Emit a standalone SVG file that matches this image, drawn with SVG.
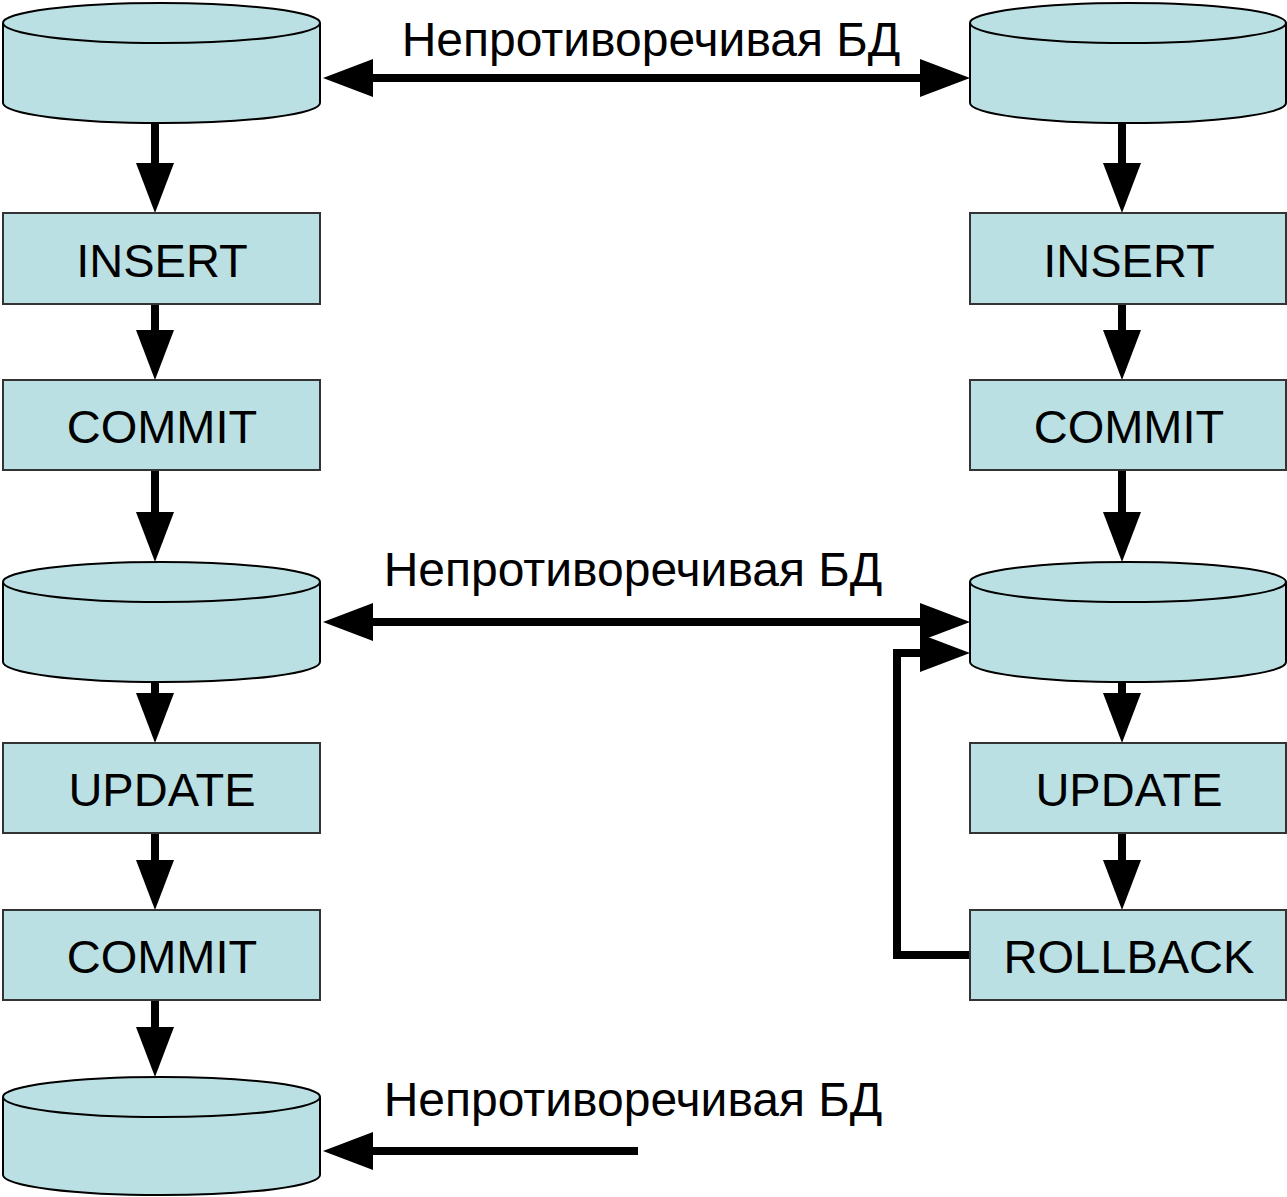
<svg xmlns="http://www.w3.org/2000/svg" width="1287" height="1197" viewBox="0 0 1287 1197">
<style>
.box{fill:#BBE0E3;stroke:#333;stroke-width:2}
.cyl{fill:#BBE0E3;stroke:#000;stroke-width:2}
.lbl{font-family:"Liberation Sans",Arial,sans-serif;font-size:47px;fill:#000;text-anchor:middle}
.cap{font-family:"Liberation Sans",Arial,sans-serif;font-size:48px;fill:#000;text-anchor:middle}
.ar{stroke:#000;stroke-width:8;fill:none;marker-end:url(#h)}
.ar2{stroke:#000;stroke-width:8;fill:none;marker-end:url(#h);marker-start:url(#h)}
</style>
<defs>
<marker id="h" markerUnits="userSpaceOnUse" markerWidth="52" markerHeight="40" refX="0" refY="19" orient="auto-start-reverse" viewBox="0 0 52 38">
<path d="M0,0 L50,19 L0,38 Z" fill="#000"/>
</marker>
</defs>
<g id="connectors">
<line class="ar" x1="155" y1="123" x2="155" y2="163"/>
<line class="ar" x1="155" y1="304" x2="155" y2="330"/>
<line class="ar" x1="155" y1="470" x2="155" y2="512"/>
<line class="ar" x1="155" y1="682" x2="155" y2="693"/>
<line class="ar" x1="155" y1="833" x2="155" y2="860"/>
<line class="ar" x1="155" y1="1000" x2="155" y2="1027"/>
<line class="ar" x1="1122" y1="123" x2="1122" y2="163"/>
<line class="ar" x1="1122" y1="304" x2="1122" y2="330"/>
<line class="ar" x1="1122" y1="470" x2="1122" y2="512"/>
<line class="ar" x1="1122" y1="682" x2="1122" y2="693"/>
<line class="ar" x1="1122" y1="833" x2="1122" y2="860"/>
<line class="ar2" x1="373" y1="78" x2="920" y2="78"/>
<line class="ar2" x1="373" y1="622" x2="920" y2="622"/>
<path class="ar" d="M970,955 L897,955 L897,653 L920,653"/>
<line class="ar" x1="638" y1="1151" x2="373" y2="1151"/>
</g>
<g id="db1-left">
<path class="cyl" d="M3,23 L3,103 A158.5,20 0 0 0 320,103 L320,23"/>
<ellipse class="cyl" cx="161.5" cy="23" rx="158.5" ry="20"/>
</g>
<g id="db1-right">
<path class="cyl" d="M970,23 L970,103 A158,20 0 0 0 1286,103 L1286,23"/>
<ellipse class="cyl" cx="1128" cy="23" rx="158" ry="20"/>
</g>
<g id="db2-left">
<path class="cyl" d="M3,582 L3,662 A158.5,20 0 0 0 320,662 L320,582"/>
<ellipse class="cyl" cx="161.5" cy="582" rx="158.5" ry="20"/>
</g>
<g id="db2-right">
<path class="cyl" d="M970,582 L970,662 A158,20 0 0 0 1286,662 L1286,582"/>
<ellipse class="cyl" cx="1128" cy="582" rx="158" ry="20"/>
</g>
<g id="db3-left">
<path class="cyl" d="M3,1097 L3,1175 A158.5,20 0 0 0 320,1175 L320,1097"/>
<ellipse class="cyl" cx="161.5" cy="1097" rx="158.5" ry="20"/>
</g>
<g id="insert-left"><rect class="box" x="3" y="213" width="317" height="91"/><text class="lbl" x="162" y="277">INSERT</text></g>
<g id="commit1-left"><rect class="box" x="3" y="380" width="317" height="90"/><text class="lbl" x="162" y="443">COMMIT</text></g>
<g id="update-left"><rect class="box" x="3" y="743" width="317" height="90"/><text class="lbl" x="162" y="806">UPDATE</text></g>
<g id="commit2-left"><rect class="box" x="3" y="910" width="317" height="90"/><text class="lbl" x="162" y="973">COMMIT</text></g>
<g id="insert-right"><rect class="box" x="970" y="213" width="316" height="91"/><text class="lbl" x="1129" y="277">INSERT</text></g>
<g id="commit-right"><rect class="box" x="970" y="380" width="316" height="90"/><text class="lbl" x="1129" y="443">COMMIT</text></g>
<g id="update-right"><rect class="box" x="970" y="743" width="316" height="90"/><text class="lbl" x="1129" y="806">UPDATE</text></g>
<g id="rollback-right"><rect class="box" x="970" y="910" width="316" height="90"/><text class="lbl" x="1129" y="973">ROLLBACK</text></g>
<g id="labels">
<text class="cap" x="651" y="56">Непротиворечивая БД</text>
<text class="cap" x="633" y="586">Непротиворечивая БД</text>
<text class="cap" x="633" y="1116">Непротиворечивая БД</text>
</g>
</svg>
